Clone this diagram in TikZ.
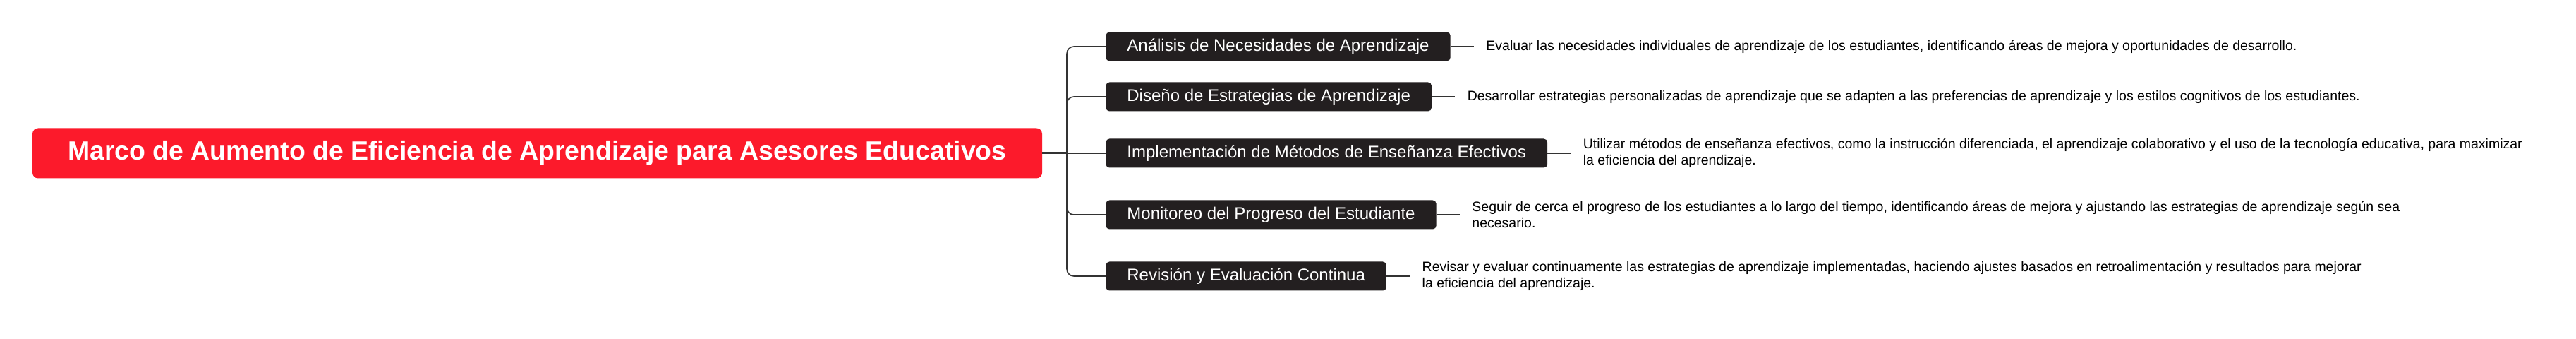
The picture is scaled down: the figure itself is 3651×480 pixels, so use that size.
\documentclass[tikz,border=0pt]{standalone}
\usepackage{fontspec}
\setmainfont{Liberation Sans}
\usetikzlibrary{positioning}
\definecolor{rootred}{HTML}{FC1A2B}
\definecolor{boxdark}{HTML}{231F20}
\definecolor{linegray}{HTML}{333333}

\begin{document}
\begin{tikzpicture}[x=0.5pt,y=-0.5pt,
  rootbox/.style={fill=rootred, rounded corners=4pt, text=white, font=\fontsize{18.7}{23}\selectfont\bfseries, minimum width=715.5pt, minimum height=35.5pt, inner sep=0pt},
  topicbox/.style={fill=boxdark, rounded corners=2.5pt, text=white, font=\fontsize{12}{14}\selectfont, minimum height=20.5pt, inner xsep=15pt, inner ysep=0pt, anchor=west},
  desc/.style={font=\fontsize{9.75}{11.5}\selectfont, align=left, inner xsep=8.5pt, inner ysep=0pt},
  link/.style={draw=linegray, line width=0.8pt}]
\useasboundingbox (0,0) rectangle (3651,480);
\node[rootbox] (root) at (761.5,217) {Marco de Aumento de Eficiencia de Aprendizaje para Asesores Educativos};
\coordinate (spine) at (1512,217);
% topics
\node[topicbox] (b1) at (1567,66) {Análisis de Necesidades de Aprendizaje};
\node[topicbox] (b2) at (1567,137) {Diseño de Estrategias de Aprendizaje};
\node[topicbox] (b3) at (1567,217) {Implementación de Métodos de Enseñanza Efectivos};
\node[topicbox] (b4) at (1567,304) {Monitoreo del Progreso del Estudiante};
\node[topicbox] (b5) at (1567,391) {Revisión y Evaluación Continua};
% descriptions
\node[desc, right=16.5pt of b1] (d1) {Evaluar las necesidades individuales de aprendizaje de los estudiantes, identificando áreas de mejora y oportunidades de desarrollo.};
\node[desc, right=16.5pt of b2] (d2) {Desarrollar estrategias personalizadas de aprendizaje que se adapten a las preferencias de aprendizaje y los estilos cognitivos de los estudiantes.};
\node[desc, right=16.5pt of b3] (d3) {Utilizar métodos de enseñanza efectivos, como la instrucción diferenciada, el aprendizaje colaborativo y el uso de la tecnología educativa, para maximizar\\la eficiencia del aprendizaje.};
\node[desc, right=16.5pt of b4] (d4) {Seguir de cerca el progreso de los estudiantes a lo largo del tiempo, identificando áreas de mejora y ajustando las estrategias de aprendizaje según sea\\necesario.};
\node[desc, right=16.5pt of b5] (d5) {Revisar y evaluar continuamente las estrategias de aprendizaje implementadas, haciendo ajustes basados en retroalimentación y resultados para mejorar\\la eficiencia del aprendizaje.};
% connectors
\draw[link, line width=1.5pt] (root.east) -- (spine);
\foreach \b in {b1,b2,b4,b5}
	\draw[link, rounded corners=5pt] (spine) -- (spine |- \b.west) -- (\b.west);
\draw[link] (spine) -- (b3.west);
\foreach \n in {1,...,5}
	\draw[link] (b\n.east) -- (d\n.west);
\end{tikzpicture}
\end{document}
